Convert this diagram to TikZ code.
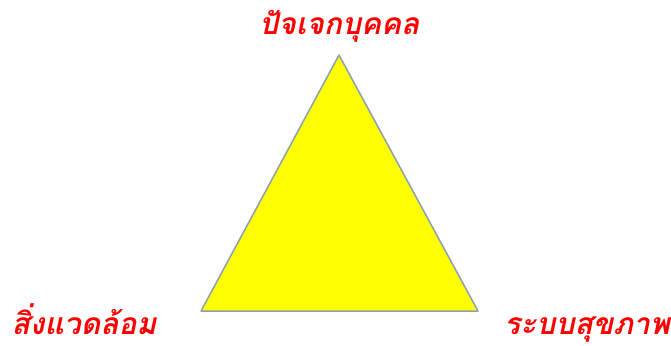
\documentclass[tikz,border=0pt]{standalone}
\usepackage{fontspec}
\newfontfamily\thaifont[Script=Thai]{Loma}
\definecolor{triyellow}{RGB}{255,255,0}
\definecolor{triedge}{RGB}{140,160,180}
\definecolor{lblred}{RGB}{255,0,0}
\tikzset{
  lbl/.style={text=lblred, font=\thaifont\bfseries\itshape\fontsize{30}{34}\selectfont, inner sep=0pt, anchor=base, text depth=0pt},
  tri/.style={fill=triyellow, draw=triedge, line width=1.5pt, line join=round}
}
\begin{document}
\begin{tikzpicture}[x=1pt,y=-1pt]
\useasboundingbox (0,0) rectangle (671,345);
\coordinate (top) at (339,55);
\coordinate (bl) at (201,311);
\coordinate (br) at (478,311);
\draw[tri] (top) -- (bl) -- (br) -- cycle;
\node[lbl] (t) at (339.5,35) {ปัจเจกบุคคล};
\node[lbl] (l) at (84,334) {สิ่งแวดล้อม};
\node[lbl] (r) at (587,334) {ระบบสุขภาพ};
\end{tikzpicture}
\end{document}
